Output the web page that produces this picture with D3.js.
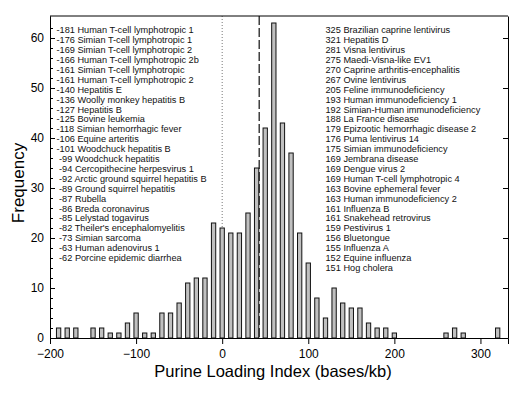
<!DOCTYPE html>
<html><head><meta charset="utf-8">
<script src="https://cdn.jsdelivr.net/npm/d3@7"></script>
<style>
html,body{margin:0;padding:0;background:#fff;}
svg{display:block;font-family:"Liberation Sans",Arial,sans-serif;}
</style></head>
<body><svg id="c" width="525" height="394"></svg>
<script>
// ---- data ----
const binCenters = [-190,-180,-170,-160,-150,-140,-130,-120,-110,-100,-90,-80,-70,-60,-50,-40,-30,-20,-10,0,10,20,30,40,50,60,70,80,90,100,110,120,130,140,150,160,170,180,190,200,210,220,230,240,250,260,270,280,290,300,310,320];
const frequencies = [2,2,2,0,2,2,1,1,3,5,1,1,5,5,7,11,12,12,23,22,21,21,25,34,42,63,43,37,21,15,8,4,10,7,6,6,3,2,2,1,0,0,0,0,0,1,2,1,0,0,0,2];
const xTicks = [-200,-100,0,100,200,300];
const yTicks = [0,10,20,30,40,50,60];
const lowValues = [-181,-176,-169,-166,-161,-161,-140,-136,-127,-125,-118,-106,-101,-99,-94,-92,-89,-87,-86,-85,-82,-73,-63,-62];
const lowNames = ["Human T-cell lymphotropic 1","Simian T-cell lymphotropic 1","Simian T-cell lymphotropic 2","Human T-cell lymphotropic 2b","Simian T-cell lymphotropic","Human T-cell lymphotropic 2","Hepatitis E","Woolly monkey hepatitis B","Hepatitis B","Bovine leukemia","Simian hemorrhagic fever","Equine arteritis","Woodchuck hepatitis B","Woodchuck hepatitis","Cercopithecine herpesvirus 1","Arctic ground squirrel hepatitis B","Ground squirrel hepatitis","Rubella","Breda coronavirus","Lelystad togavirus","Theiler's encephalomyelitis","Simian sarcoma","Human adenovirus 1","Porcine epidemic diarrhea"];
const highValues = [325,321,281,275,270,267,205,193,192,188,179,176,175,169,169,169,163,163,161,161,159,156,155,152,151];
const highNames = ["Brazilian caprine lentivirus","Hepatitis D","Visna lentivirus","Maedi-Visna-like EV1","Caprine arthritis-encephalitis","Ovine lentivirus","Feline immunodeficiency","Human immunodeficiency 1","Simian-Human immunodeficiency","La France disease","Epizootic hemorrhagic disease 2","Puma lentivirus 14","Simian immunodeficiency","Jembrana disease","Dengue virus 2","Human T-cell lymphotropic 4","Bovine ephemeral fever","Human immunodeficiency 2","Influenza B","Snakehead retrovirus","Pestivirus 1","Bluetongue","Influenza A","Equine influenza","Hog cholera"];
const zeroLine = 0;
const meanLine = 43;
const xLabel = "Purine Loading Index (bases/kb)";
const yLabel = "Frequency";

// ---- layout ----
const L = 50, R = 508, T = 16, B = 338;
const svg = d3.select("#c");
const x = d3.scaleLinear().domain([-200, 332]).range([L, R]);
const y = d3.scaleLinear().domain([0, 64.4]).range([B, T]);

// reference lines (behind bars)
svg.append("line").attr("x1", x(zeroLine)).attr("x2", x(zeroLine)).attr("y1", T).attr("y2", B)
  .attr("stroke", "#777").attr("stroke-width", 1).attr("stroke-dasharray", "1,2");
svg.append("line").attr("x1", x(meanLine)).attr("x2", x(meanLine)).attr("y1", T).attr("y2", B)
  .attr("stroke", "#222").attr("stroke-width", 1.3).attr("stroke-dasharray", "9,3");

// bars
const bw = 5;
const bins = binCenters.map((c, i) => ({c, f: frequencies[i]})).filter(d => d.f > 0);
svg.append("g").selectAll("rect").data(bins).join("rect")
  .attr("x", d => x(d.c - bw / 2)).attr("width", x(bw) - x(0))
  .attr("y", d => y(d.f)).attr("height", d => y(0) - y(d.f))
  .attr("fill", "#c0c0c0").attr("stroke", "#111").attr("stroke-width", 1);

// frame
svg.append("line").attr("x1", L).attr("x2", R).attr("y1", T).attr("y2", T).attr("stroke", "#000");

// axes
const gx = svg.append("g").attr("transform", `translate(0,${B})`)
  .call(d3.axisBottom(x).tickValues(xTicks).tickSize(6).tickPadding(5).tickFormat(d3.format("d")));
const gy = svg.append("g").attr("transform", `translate(${L},0)`)
  .call(d3.axisLeft(y).tickValues(yTicks).tickSizeInner(-5).tickSizeOuter(0).tickPadding(6));
const minor = d3.range(2, 64, 2).filter(v => v % 10 !== 0);
svg.append("g").attr("transform", `translate(${L},0)`)
  .call(d3.axisLeft(y).tickValues(minor).tickSizeInner(-3).tickSizeOuter(0).tickFormat(""));
svg.append("g").attr("transform", `translate(${R},0)`)
  .call(d3.axisRight(y).tickValues(yTicks).tickSizeInner(-5).tickSizeOuter(0).tickFormat(""));
svg.selectAll(".domain").attr("stroke", "#000");
[gx, gy].forEach(g => g.selectAll("text").attr("font-size", 12).attr("fill", "#000")
  .attr("font-family", '"Liberation Sans",Arial,sans-serif'));

// axis titles
svg.append("text").attr("x", 273).attr("y", 377).attr("text-anchor", "middle")
  .attr("font-size", 16.5).text(xLabel);
svg.append("text").attr("transform", "translate(24,183) rotate(-90)").attr("text-anchor", "middle")
  .attr("font-size", 17).text(yLabel);

// virus lists
const lineH = 9.9, top0 = 33.3;
svg.append("g").selectAll("text").data(lowValues.map((v, i) => ({v, n: lowNames[i]}))).join("text")
  .attr("x", 56.5).attr("y", (d, i) => top0 + i * lineH)
  .attr("font-size", 9.2).attr("fill", "#111").style("white-space", "pre")
  .text(d => String(d.v).padStart(4, " ") + " " + d.n);
svg.append("g").selectAll("text").data(highValues.map((v, i) => ({v, n: highNames[i]}))).join("text")
  .attr("x", 325.5).attr("y", (d, i) => top0 + i * lineH)
  .attr("font-size", 9.2).attr("fill", "#111").style("white-space", "pre")
  .text(d => d.v + " " + d.n);
</script></body></html>
